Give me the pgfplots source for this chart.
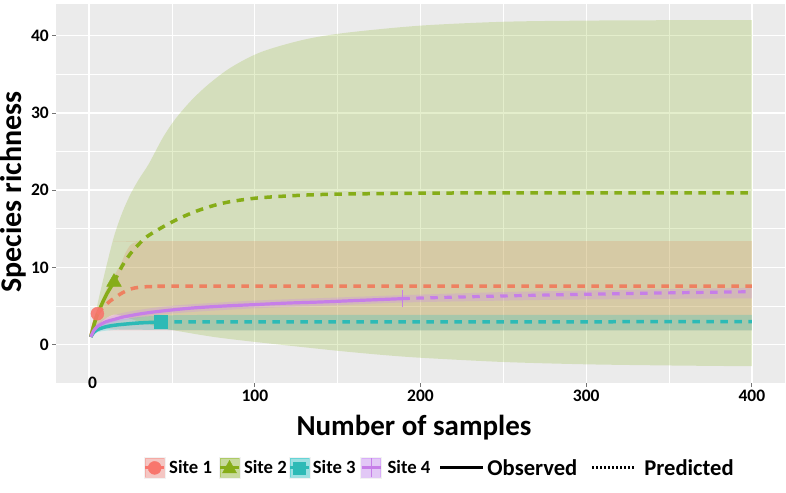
\documentclass[border=0pt]{standalone}
\usepackage{pgfplots}
\pgfplotsset{compat=1.18}
\usepgfplotslibrary{fillbetween}
\usepackage{fontspec}
\setmainfont{Carlito}
\definecolor{s1}{HTML}{F8766D}
\definecolor{s2}{HTML}{7CAE00}
\definecolor{s3}{HTML}{00BFC4}
\definecolor{s4}{HTML}{C77CFF}
\definecolor{l1}{HTML}{EE8060}
\definecolor{l2}{HTML}{86AD18}
\definecolor{l3}{HTML}{2DBAB6}
\definecolor{l4}{HTML}{C67EE8}
\definecolor{panel}{HTML}{EBEBEB}
\definecolor{keybg}{HTML}{F2F2F2}
\begin{document}
\begin{tikzpicture}
\begin{axis}[
  at={(56pt,-383pt)}, anchor=south west,
  scale only axis, width=729pt, height=379pt,
  xmin=-20, xmax=420, ymin=-4.97, ymax=44.1,
  axis background/.style={fill=panel},
  axis line style={draw=none},
  grid=both,
  major grid style={white, line width=1.3pt},
  minor grid style={white, line width=0.6pt},
  xtick={0,100,200,300,400}, ytick={0,10,20,30,40},
  minor xtick={50,150,250,350}, minor ytick={5,15,25,35},
  xticklabels={\smash{\raisebox{1.5pt}{\hspace{7pt}0}},100,200,300,400},
  yticklabels={0,10,20,30,40},
  tick style={draw=black!55, line width=0.8pt},
  major tick length=4pt, minor tick length=0pt,
  tick align=outside, xtick pos=bottom, ytick pos=left,
  ticklabel style={font=\fontsize{17.5}{17.5}\selectfont\bfseries, inner sep=3pt},
  legend columns=6,
  legend cell align=left,
  legend style={at={(axis description cs:0.525,-0.224)}, anchor=center,
    draw=none, fill=none, inner sep=0pt, column sep=0pt,
    nodes={inner sep=0pt, anchor=west}},
]
% ---------- ribbon edges ----------
\addplot[name path=u1, draw=none, smooth, forget plot] coordinates {
 (1,1.0) (3,2.8) (5,4.4) (8,6.0) (11,7.4) (15,8.9) (19,10.4) (22,11.9) (25,12.9) (29,13.3) (40,13.4) (400,13.4)};
\addplot[name path=d1, draw=none, smooth, forget plot] coordinates {
 (1,1.0) (3,1.9) (5,2.3) (10,2.1) (20,1.9) (40,1.85) (400,1.85)};
\addplot[name path=u2, draw=none, smooth, forget plot] coordinates {
 (1,1) (5,5.2) (10,9.8) (15,14.0) (20,17.1) (25,19.5) (30,21.4) (36,23.4) (44.5,26.8) (52,29.2) (61.6,31.6) (72,33.7) (85.7,35.9) (104,37.9) (130,39.5) (156,40.4) (200,41.3) (250,41.8) (300,41.95) (350,42.0) (400,42.0)};
\addplot[name path=d2, draw=none, smooth, forget plot] coordinates {
 (1,1) (5,2.4) (10,3.4) (15,3.9) (20,3.7) (30,3.0) (40,2.4) (50,1.9) (75,1.0) (100,0.35) (128,-0.3) (150,-0.8) (175,-1.3) (200,-1.7) (250,-2.25) (300,-2.55) (350,-2.7) (400,-2.8)};
\addplot[name path=u3, draw=none, smooth, forget plot] coordinates {
 (1,1) (5,2.3) (10,2.8) (20,3.3) (43,3.75) (100,3.85) (400,3.85)};
\addplot[name path=d3, draw=none, smooth, forget plot] coordinates {
 (1,1) (5,1.6) (10,1.8) (20,1.95) (43,1.9) (100,1.85) (400,1.85)};
\addplot[name path=u4, draw=none, smooth, forget plot] coordinates {
 (1,1) (5,2.8) (10,3.4) (20,4.1) (40,4.8) (60,5.2) (100,5.7) (150,6.1) (189,6.4) (250,6.8) (300,7.0) (400,7.35)};
\addplot[name path=d4, draw=none, smooth, forget plot] coordinates {
 (1,1) (5,2.0) (10,2.5) (20,3.1) (40,3.8) (60,4.2) (100,4.7) (150,5.1) (189,5.45) (250,5.7) (300,5.85) (400,6.0)};
% ---------- ribbons ----------
\addplot[fill=s1, fill opacity=0.22, draw=none, forget plot] fill between[of=u1 and d1];
\addplot[fill=s2, fill opacity=0.2, draw=none, forget plot] fill between[of=u2 and d2];
\addplot[fill=s3, fill opacity=0.22, draw=none, forget plot] fill between[of=u3 and d3];
\addplot[fill=s4, fill opacity=0.22, draw=none, forget plot] fill between[of=u4 and d4];
% ---------- observed ----------
\addplot[l1, line width=3.5pt, smooth, forget plot] coordinates {(1,1.0) (2,1.9) (3,2.7) (4,3.4) (5,4.0)};
\addplot[l2, line width=3.5pt, smooth, forget plot] coordinates {(1,1) (3,2.6) (5,3.9) (8,5.4) (11,6.7) (15,8.1)};
\addplot[l3, line width=3.5pt, smooth, forget plot] coordinates {(1,1.0) (3,1.65) (5,1.95) (10,2.3) (15,2.5) (20,2.62) (30,2.8) (43,2.93)};
\addplot[l4, line width=3.2pt, smooth, forget plot] coordinates {(1,1.0) (3,1.9) (5,2.35) (10,2.95) (15,3.25) (20,3.55) (30,3.95) (40,4.25) (60,4.7) (80,4.98) (100,5.18) (120,5.38) (140,5.52) (160,5.7) (189,5.95)};
% ---------- predicted ----------
\addplot[l1, line width=3.5pt, smooth, dash pattern=on 7.5pt off 6.5pt, forget plot] coordinates {(5,4.0) (7,4.5) (10,5.15) (13,5.7) (16,6.15) (20,6.7) (25,7.2) (30,7.42) (35,7.5) (45,7.55) (70,7.56) (400,7.56)};
\addplot[l2, line width=3.5pt, smooth, dash pattern=on 7.5pt off 6.5pt, forget plot] coordinates {(15,8.1) (20,10.2) (25,11.8) (30,13.0) (35,14.0) (45,15.3) (55,16.4) (65,17.3) (75,18.0) (85,18.5) (100,18.95) (116,19.2) (135,19.4) (156,19.5) (200,19.6) (250,19.65) (400,19.65)};
\addplot[l3, line width=3.5pt, dash pattern=on 7.5pt off 6.5pt, forget plot] coordinates {(43,2.93) (400,2.97)};
\addplot[l4, line width=3.2pt, smooth, dash pattern=on 7.5pt off 6.5pt, forget plot] coordinates {(189,5.95) (200,6.03) (250,6.3) (300,6.52) (350,6.7) (400,6.85)};
% ---------- markers ----------
\addplot[s1, only marks, mark=*, mark size=6.5pt, mark options={fill=s1, draw=s1, opacity=0.9}, forget plot] coordinates {(5,4.0)};
\addplot[l2, only marks, mark=triangle*, mark size=8.5pt, mark options={fill=l2, draw=l2}, forget plot] coordinates {(15,8.1)};
\addplot[l3, only marks, mark=square*, mark size=6.5pt, mark options={fill=l3, draw=l3}, forget plot] coordinates {(43,2.93)};
\addplot[l4, only marks, mark=|, mark size=8.5pt, mark options={draw=l4, line width=1pt}, forget plot] coordinates {(189,5.95)};
% ---------- legend ----------
\addlegendimage{legend image code/.code={
  \path[draw=none,fill=none] (0pt,0pt) rectangle (25pt,0pt);
  \fill[keybg] (0pt,-10.5pt) rectangle (21pt,10.5pt);
  \fill[s1,opacity=0.35] (1pt,-9.5pt) rectangle (20pt,9.5pt);
  \draw[s1,line width=3pt] (1pt,0pt)--(20pt,0pt);
  \fill[s1] (10.5pt,0pt) circle (6.5pt);}}
\addlegendentry{\fontsize{18.7}{18.7}\selectfont\bfseries Site 1}
\addlegendimage{legend image code/.code={
  \path[draw=none,fill=none] (-7pt,0pt) rectangle (25pt,0pt);
  \fill[keybg] (0pt,-10.5pt) rectangle (21pt,10.5pt);
  \fill[s2,opacity=0.35] (1pt,-9.5pt) rectangle (20pt,9.5pt);
  \draw[l2,line width=3pt] (1pt,0pt)--(20pt,0pt);
  \fill[l2] (10.5pt,7.5pt) -- (3.5pt,-5pt) -- (17.5pt,-5pt) -- cycle;}}
\addlegendentry{\fontsize{18.7}{18.7}\selectfont\bfseries Site 2}
\addlegendimage{legend image code/.code={
  \path[draw=none,fill=none] (-2pt,0pt) rectangle (24pt,0pt);
  \fill[keybg] (0pt,-10.5pt) rectangle (21pt,10.5pt);
  \fill[s3,opacity=0.35] (1pt,-9.5pt) rectangle (20pt,9.5pt);
  \draw[l3,line width=3pt] (1pt,0pt)--(20pt,0pt);
  \fill[l3] (4.5pt,-6pt) rectangle (16.5pt,6pt);}}
\addlegendentry{\fontsize{18.7}{18.7}\selectfont\bfseries Site 3}
\addlegendimage{legend image code/.code={
  \path[draw=none,fill=none] (-5pt,0pt) rectangle (27pt,0pt);
  \fill[keybg] (0pt,-10.5pt) rectangle (21pt,10.5pt);
  \fill[s4,opacity=0.35] (1pt,-9.5pt) rectangle (20pt,9.5pt);
  \draw[l4,line width=3pt] (1pt,0pt)--(20pt,0pt);
  \draw[l4,line width=1.2pt] (10.5pt,-9.5pt)--(10.5pt,9.5pt);}}
\addlegendentry{\fontsize{18.7}{18.7}\selectfont\bfseries Site 4}
\addlegendimage{legend image code/.code={
  \path[draw=none,fill=none] (-10pt,0pt) rectangle (47pt,0pt);
  \draw[black,line width=3pt] (0pt,0pt)--(43pt,0pt);}}
\addlegendentry{\fontsize{22.6}{22.6}\selectfont\bfseries Observed}
\addlegendimage{legend image code/.code={
  \path[draw=none,fill=none] (-15pt,0pt) rectangle (52pt,0pt);
  \draw[black,line width=3pt,dash pattern=on 2pt off 2pt] (0pt,0pt)--(42pt,0pt);}}
\addlegendentry{\fontsize{22.6}{22.6}\selectfont\bfseries Predicted}
\end{axis}
\node[inner sep=0pt, font=\fontsize{29}{29}\selectfont\bfseries] at (414pt,-428pt) {Number of samples};
\node[inner sep=0pt, rotate=90, font=\fontsize{30}{30}\selectfont\bfseries] at (13pt,-192pt) {Species richness};
\pgfresetboundingbox
\path[use as bounding box] (0pt,0pt) rectangle (786pt,-492pt);
\end{tikzpicture}
\end{document}
